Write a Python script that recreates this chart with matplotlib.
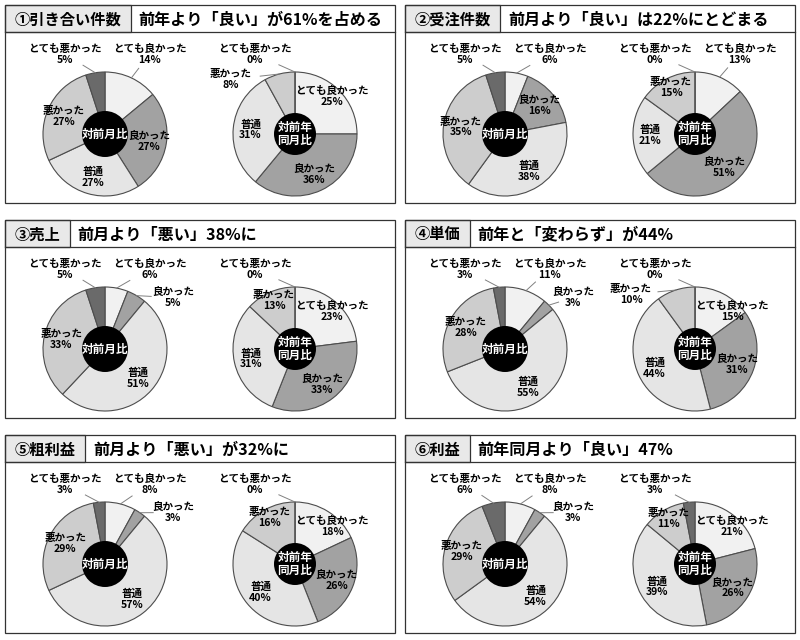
import numpy as np
import matplotlib.pyplot as plt
from matplotlib.patches import Rectangle, Circle

plt.rcParams['font.family'] = ['Noto Sans CJK JP', 'DejaVu Sans']

# categories in clockwise order from 12 o'clock
categories = ['とても良かった', '良かった', '普通', '悪かった', 'とても悪かった']
cat_colors = ['#f1f1f1', '#a2a2a2', '#e5e5e5', '#cdcdcd', '#6a6a6a']

panel_labels = ['①引き合い件数', '②受注件数', '③売上', '④単価', '⑤粗利益', '⑥利益']
panel_titles = ['前年より「良い」が61%を占める', '前月より「良い」は22%にとどまる',
                '前月より「悪い」38%に', '前年と「変わらず」が44%',
                '前月より「悪い」が32%に', '前年同月より「良い」47%']

# 対前月比 (left donut)
mom_vals = [[14, 27, 27, 27, 5], [6, 16, 38, 35, 5], [6, 5, 51, 33, 5],
            [11, 3, 55, 28, 3], [8, 3, 57, 29, 3], [8, 3, 54, 29, 6]]
# 対前年同月比 (right donut)
yoy_vals = [[25, 36, 31, 8, 0], [13, 51, 21, 15, 0], [23, 33, 31, 13, 0],
            [15, 31, 44, 10, 0], [18, 26, 40, 16, 0], [21, 26, 39, 11, 3]]

# which wedge labels sit outside the ring (category index)
mom_out = [[0, 4], [0, 4], [0, 1, 4], [0, 1, 4], [0, 1, 4], [0, 1, 4]]
yoy_out = [[3, 4], [0, 4], [4], [3, 4], [4], [4]]

# outside label anchor per category, in radius units (x right, y down)
out_anchor = {0: (0.72, -1.29), 1: (1.1, -0.83), 3: (-1.03, -0.88), 4: (-0.65, -1.29)}

W, H = 800, 640
fig = plt.figure(figsize=(8, 6.4), dpi=100)
ax = fig.add_axes([0, 0, 1, 1])
renderer = fig.canvas.get_renderer()


def Y(y):
    return H - y


R = 62
panel_w, panel_h, bar_h = 390, 198, 27
lc = '#4d4d4d'


def donut(vals, cx, cy, hole_r, hole_text, outside):
    wedges, _ = ax.pie(vals, colors=cat_colors, startangle=90, counterclock=False,
                       radius=R, center=(cx, Y(cy)),
                       wedgeprops=dict(edgecolor=lc, linewidth=0.8))
    ax.add_patch(Circle((cx, Y(cy)), hole_r, facecolor='black', edgecolor='none', zorder=3))
    ax.text(cx, Y(cy), hole_text, color='white', fontsize=8.4, fontweight='bold',
            ha='center', va='center', linespacing=1.0, zorder=4)
    for i, w in enumerate(wedges):
        mid = (w.theta1 + w.theta2) / 2
        txt = f'{categories[i]}\n{vals[i]}%'
        if i in outside:
            m = np.deg2rad(mid)
            dx, dy = out_anchor[i]
            lx, ly = cx + dx * R, Y(cy) - dy * R
            ex, ey = cx + R * np.cos(m), Y(cy) + R * np.sin(m)
            ax.plot([ex, ex + 0.4 * (lx - ex)], [ey, ey + 0.4 * (ly - ey)],
                    color='#808080', lw=0.7, zorder=2)
        else:
            f = 0.72
            if i == 0:
                f, mid = 0.85, min(mid, 45.0)
            elif i == 3 and vals[i] < 20:
                f = 0.85
            m = np.deg2rad(mid)
            lx, ly = cx + f * R * np.cos(m), Y(cy) + f * R * np.sin(m)
        ax.text(lx, ly, txt, fontsize=7.6, fontweight='bold', ha='center', va='center',
                linespacing=1.12, zorder=5)


for k in range(6):
    px = 5 + (k % 2) * 400
    top = 5 + (k // 2) * 215
    # panel frame and title bar
    lab = ax.text(px + 10, Y(top + 14.5), panel_labels[k], fontsize=11, fontweight='bold',
                  ha='left', va='center', zorder=6)
    lw_txt = lab.get_window_extent(renderer).width
    box_w = lw_txt + 19
    ax.add_patch(Rectangle((px, Y(top + bar_h)), box_w, bar_h, facecolor='#e9e9e9',
                           edgecolor='#333333', lw=0.9, zorder=1))
    ax.add_patch(Rectangle((px, Y(top + panel_h)), panel_w, panel_h, facecolor='none',
                           edgecolor='#333333', lw=0.9, zorder=6))
    ax.plot([px, px + panel_w], [Y(top + bar_h)] * 2, color='#333333', lw=0.9, zorder=6)
    ax.text(px + box_w + 8, Y(top + 14.5), panel_titles[k], fontsize=11.6, fontweight='bold',
            ha='left', va='center', zorder=6)

    cy = top + 129
    donut(mom_vals[k], px + 100, cy, 23, '対前月比', mom_out[k])
    donut(yoy_vals[k], px + 290, cy, 21, '対前年\n同月比', yoy_out[k])

ax.set_xlim(0, W)
ax.set_ylim(0, H)
ax.set_aspect('equal')
ax.axis('off')
fig.savefig('out.png', dpi=100, facecolor='white')
